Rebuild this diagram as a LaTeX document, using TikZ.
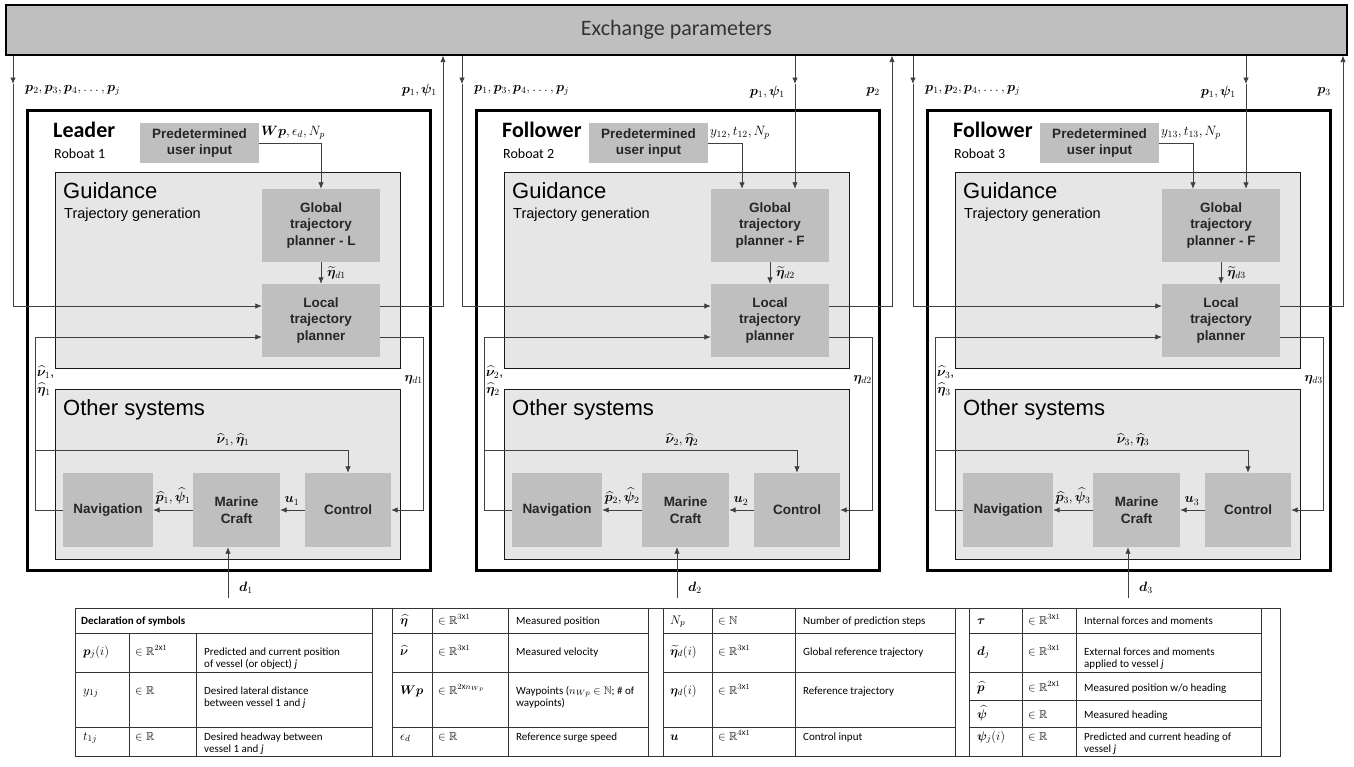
\RequirePackage{fix-cm}
\documentclass[tikz,border=0pt]{standalone}
\usepackage{amsmath, amssymb, bm}
\usepackage{fontspec}
\setmainfont{Liberation Sans}
\newfontfamily\calibri{Carlito}
\usepackage{tikz}
\usetikzlibrary{arrows.meta, positioning}

\definecolor{boxgray}{RGB}{191,191,191}
\definecolor{panelgray}{RGB}{230,230,230}

\tikzset{
  block/.style={fill=boxgray, align=center, text=black!85, inner sep=2pt,
    font=\bfseries\fontsize{13.5}{16.5}\selectfont},
  panel/.style={draw=black!90, fill=panelgray, line width=1pt, inner sep=0pt},
  robotframe/.style={draw=black, line width=3pt, inner sep=0pt},
  wire/.style={draw=black!75, line width=0.8pt},
  conn/.style={wire, -{Latex[length=6.5pt,width=5.5pt]}},
  sig/.style={inner sep=1pt, font=\fontsize{13.5}{17}\selectfont},
  tab/.style={draw=black!80, line width=0.8pt},
  cell/.style={inner sep=0pt, anchor=base west,
    font=\calibri\fontsize{11}{12.8}\selectfont},
  symcell/.style={cell, font=\fontsize{12.5}{14}\selectfont},
  setcell/.style={cell, font=\fontsize{11.5}{13}\selectfont},
}

% top-aligned cell text (first line on the node's baseline)
\newcommand{\celltext}[1]{\begin{tabular}[t]{@{}l@{}}#1\end{tabular}}

\begin{document}
\begin{tikzpicture}[x=1pt, y=-1pt]
  \useasboundingbox (0,0) rectangle (1354,766);

  % ==================== EXCHANGE BAR ====================
  \node[draw=black, line width=1.2pt, fill=boxgray, minimum width=1341, minimum height=50,
    inner sep=0pt, text=black!80, font=\calibri\fontsize{22}{26}\selectfont]
    (exch) at (676.5,30) {Exchange parameters};

  % ==================== ROBOATS ====================
  \foreach \i/\ox/\role/\plane/\lin/\lui in {
      1/0/Leader/L/{$\bm p_2, \bm p_3, \bm p_4, \dots, \bm p_j$}/{$\bm{Wp}, \epsilon_d, N_p$},
      2/449/Follower/F/{$\bm p_1, \bm p_3, \bm p_4, \dots, \bm p_j$}/{$y_{12}, t_{12}, N_p$},
      3/900/Follower/F/{$\bm p_1, \bm p_2, \bm p_4, \dots, \bm p_j$}/{$y_{13}, t_{13}, N_p$}} {

    % frame and panels
    \node[robotframe, minimum width=403, minimum height=460] (robot\i) at (\ox+228.5,340) {};
    \node[panel, minimum width=345, minimum height=196] (guid\i) at (\ox+227.5,270) {};
    \node[panel, minimum width=345, minimum height=170] (oth\i) at (\ox+227.5,474) {};

    % titles
    \node[anchor=base west, inner sep=0pt, font=\calibri\bfseries\fontsize{22}{26}\selectfont]
      (role\i) at (\ox+53,137) {\role};
    \node[anchor=base west, inner sep=0pt, font=\calibri\fontsize{14}{16}\selectfont]
      (name\i) at (\ox+54,158) {Roboat \i};
    \node[anchor=base west, inner sep=0pt, font=\fontsize{22}{26}\selectfont]
      (gtitle\i) at (\ox+63,198) {Guidance};
    \node[anchor=base west, inner sep=0pt, font=\fontsize{14.5}{17}\selectfont]
      (gsub\i) at (\ox+64,218) {Trajectory generation};
    \node[anchor=base west, inner sep=0pt, font=\fontsize{22}{26}\selectfont]
      (otitle\i) at (\ox+63,415) {Other systems};

    % blocks
    \node[block, minimum width=119, minimum height=40] (user\i) at (\ox+199.5,143) {Predetermined\\user input};
    \node[block, minimum width=118, minimum height=73] (glob\i) at (\ox+321,225.5) {Global\\trajectory\\planner - \plane};
    \node[block, minimum width=118, minimum height=73] (loc\i) at (\ox+321,320.5) {Local\\trajectory\\planner};
    \node[block, minimum width=90, minimum height=74] (nav\i) at (\ox+108,510) {Navigation};
    \node[block, minimum width=87, minimum height=74] (craft\i) at (\ox+236.5,510) {Marine\\Craft};
    \node[block, minimum width=86, minimum height=74] (ctrl\i) at (\ox+348,510) {Control};

    % wires
    \coordinate (lx\i) at (\ox+13,84);
    \coordinate (rx\i) at (\ox+443,84);
    \coordinate (br\i) at (\ox+36,450);
    \coordinate (dist\i) at (\ox+228,598);

    \draw[conn] (exch.south -| lx\i) -- (lx\i);
    \draw[conn] (lx\i) |- ([yshift=14.5pt]loc\i.west);
    \draw[conn] ([yshift=14.5pt]loc\i.east) -| (exch.south -| rx\i);
    \draw[conn] (glob\i) -- (loc\i);
    \draw[conn] ([yshift=-16.5pt]loc\i.east) -- ++(43,0) |- (ctrl\i.east);
    \draw[conn] (nav\i.west) -- ++(-27,0) |- ([yshift=-16.5pt]loc\i.west);
    \draw[conn] (br\i) -| (ctrl\i.north);
    \draw[conn] (ctrl\i) -- (craft\i);
    \draw[conn] (craft\i) -- (nav\i);
    \draw[conn] (dist\i) -- (craft\i.south -| dist\i);

    \ifnum\i=1
      \draw[conn] (user\i.east) -| (glob\i.north);
      \node[sig, anchor=east] (lout\i) at (\ox+438,90) {$\bm p_1, \bm\psi_1$};
    \else
      \coordinate (mx\i) at (\ox+346,84);
      \draw[conn] (user\i.east) -| ([xshift=-28pt]glob\i.north);
      \draw[conn] (exch.south -| mx\i) -- (mx\i);
      \draw[conn] (mx\i) -- (glob\i.north -| mx\i);
      \node[sig, anchor=east] (lmid\i) at (\ox+337,92) {$\bm p_1, \bm\psi_1$};
      \node[sig, anchor=east] (lout\i) at (\ox+432,92) {$\bm p_{\i}$};
    \fi

    % signal labels
    \node[sig, anchor=west] (lin\i) at (\ox+24,90) {\lin};
    \node[sig, anchor=west] (lui\i) at (\ox+260,133) {\lui};
    \node[sig, anchor=west] (lgl\i) at (\ox+326,273) {$\widetilde{\bm\eta}_{d\i}$};
    \node[sig, anchor=east] (ldd\i) at (\ox+424,380) {$\bm\eta_{d\i}$};
    \node[sig, anchor=north west, align=left] (lnv\i) at (\ox+36,365) {$\widehat{\bm\nu}_{\i}$,\\$\widehat{\bm\eta}_{\i}$};
    \node[sig] (lfb\i) at (\ox+233,440) {$\widehat{\bm\nu}_{\i}, \widehat{\bm\eta}_{\i}$};
    \node[sig] (lu\i) at (\ox+292,501) {$\bm u_{\i}$};
    \node[sig, inner sep=0pt] (lpn\i) at (\ox+173,496) {$\widehat{\bm p}_{\i}, \widehat{\bm\psi}_{\i}$};
    \node[sig] (ld\i) at (\ox+246,588) {$\bm d_{\i}$};
  }

  % ==================== DECLARATION TABLE ====================
  \draw[tab] (75,608) rectangle (1280,756);
  \foreach \x in {372,392,648,663,955,969,1261,432,508,712,795,1022,1076}
    \draw[tab] (\x,608) -- (\x,756);
  \foreach \x in {129,196}
    \draw[tab] (\x,633) -- (\x,756);
  \foreach \a/\b in {75/372,392/648,663/955,969/1261}
    \foreach \y in {633,672,727}
      \draw[tab] (\a,\y) -- (\b,\y);
  \draw[tab] (969,700) -- (1261,700);

  \node[cell, font=\calibri\bfseries\fontsize{11}{12.8}\selectfont] (dec) at (81,624) {Declaration of symbols};

  \foreach \nm/\y/\sym/\set/\txt in {
      p/655/{$\bm p_j(i)$}/{$\in\mathbb{R}^{2\mathrm{x}1}$}/{Predicted and current position\\of vessel (or object) \textit{j}},
      y/694/{$y_{1j}$}/{$\in\mathbb{R}$}/{Desired lateral distance\\between vessel 1 and \textit{j}},
      t/740/{$t_{1j}$}/{$\in\mathbb{R}$}/{Desired headway between\\vessel 1 and \textit{j}}} {
    \node[symcell] (\nm-sym) at (83,\y) {\sym};
    \node[setcell] (\nm-set) at (135,\y) {\set};
    \node[cell] (\nm-txt) at (204,\y) {\celltext{\txt}};
  }

  \foreach \nm/\y/\sym/\set/\txt in {
      etah/624/{$\widehat{\bm\eta}$}/{$\in\mathbb{R}^{3\mathrm{x}1}$}/{Measured position},
      nuh/655/{$\widehat{\bm\nu}$}/{$\in\mathbb{R}^{3\mathrm{x}1}$}/{Measured velocity},
      wp/694/{$\bm{Wp}$}/{$\in\mathbb{R}^{2\mathrm{x}n_{Wp}}$}/{Waypoints ($n_{Wp}\in\mathbb{N}$; \# of\\waypoints)},
      eps/740/{$\epsilon_d$}/{$\in\mathbb{R}$}/{Reference surge speed}} {
    \node[symcell] (\nm-sym) at (400,\y) {\sym};
    \node[setcell] (\nm-set) at (438,\y) {\set};
    \node[cell] (\nm-txt) at (516,\y) {\celltext{\txt}};
  }

  \foreach \nm/\y/\sym/\set/\txt in {
      np/624/{$N_p$}/{$\in\mathbb{N}$}/{Number of prediction steps},
      etat/655/{$\widetilde{\bm\eta}_d(i)$}/{$\in\mathbb{R}^{3\mathrm{x}1}$}/{Global reference trajectory},
      etad/694/{$\bm\eta_d(i)$}/{$\in\mathbb{R}^{3\mathrm{x}1}$}/{Reference trajectory},
      u/740/{$\bm u$}/{$\in\mathbb{R}^{4\mathrm{x}1}$}/{Control input}} {
    \node[symcell] (\nm-sym) at (670,\y) {\sym};
    \node[setcell] (\nm-set) at (718,\y) {\set};
    \node[cell] (\nm-txt) at (803,\y) {\celltext{\txt}};
  }

  \foreach \nm/\y/\sym/\set/\txt in {
      tau/624/{$\bm\tau$}/{$\in\mathbb{R}^{3\mathrm{x}1}$}/{Internal forces and moments},
      dj/655/{$\bm d_j$}/{$\in\mathbb{R}^{3\mathrm{x}1}$}/{External forces and moments\\applied to vessel \textit{j}},
      ph/691/{$\widehat{\bm p}$}/{$\in\mathbb{R}^{2\mathrm{x}1}$}/{Measured position w/o heading},
      psih/718/{$\widehat{\bm\psi}$}/{$\in\mathbb{R}$}/{Measured heading},
      psij/740/{$\bm\psi_j(i)$}/{$\in\mathbb{R}$}/{Predicted and current heading of\\vessel \textit{j}}} {
    \node[symcell] (\nm-sym) at (977,\y) {\sym};
    \node[setcell] (\nm-set) at (1028,\y) {\set};
    \node[cell] (\nm-txt) at (1084,\y) {\celltext{\txt}};
  }

\end{tikzpicture}
\end{document}
